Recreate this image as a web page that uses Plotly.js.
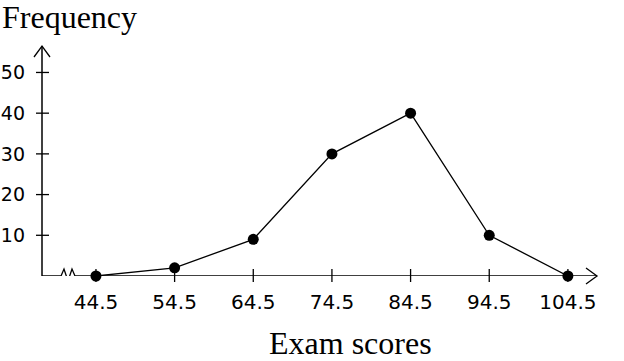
<!DOCTYPE html>
<html>
<head>
<meta charset="utf-8">
<script src="https://cdn.plot.ly/plotly-3.0.1.min.js"></script>
<style>html,body{margin:0;padding:0;background:#fff;}#chart{width:624px;height:361px;}</style>
</head>
<body>
<div id="chart"></div>
<script>
// Data
var scores = [44.5, 54.5, 64.5, 74.5, 84.5, 94.5, 104.5];
var frequency = [0, 2, 9, 30, 40, 10, 0];
var xTickLabels = ['44.5', '54.5', '64.5', '74.5', '84.5', '94.5', '104.5'];
var yTicks = [10, 20, 30, 40, 50];
var yTickLabels = ['10', '20', '30', '40', '50'];

var W = 624, H = 361, M = {l:42, r:27, t:46, b:85};
var plotW = W - M.l - M.r, plotH = H - M.t - M.b;

var shapes = [];
// axis lines
shapes.push({type:'line', xref:'paper', yref:'y', x0:0, x1:1, y0:0, y1:0, line:{color:'#000', width:1.5}});
shapes.push({type:'line', xref:'paper', yref:'paper', x0:0, x1:0, y0:0, y1:1, line:{color:'#000', width:1.5}});
// arrowheads (pixel-sized, anchored at axis ends)
shapes.push({type:'path', xref:'paper', yref:'paper', xsizemode:'pixel', ysizemode:'pixel', xanchor:1, yanchor:0,
  path:'M-11,8 L0,0 L-11,-8', line:{color:'#000', width:1.3}});
shapes.push({type:'path', xref:'paper', yref:'paper', xsizemode:'pixel', ysizemode:'pixel', xanchor:0, yanchor:1,
  path:'M-8,-11 L0,0 L8,-11', line:{color:'#000', width:1.3}});
// axis break (zigzag)
shapes.push({type:'path', xref:'paper', yref:'y', xsizemode:'pixel', ysizemode:'pixel', xanchor:0, yanchor:0,
  path:'M17,-1.5 L37,-1.5 L37,1.5 L17,1.5 Z', fillcolor:'#fff', line:{width:0}});
shapes.push({type:'path', xref:'paper', yref:'y', xsizemode:'pixel', ysizemode:'pixel', xanchor:0, yanchor:0,
  path:'M17,0 L19,0 L22,7 L26,-5 L30,7 L33,0 L37,0', line:{color:'#000', width:1.3}});
// tick marks crossing the axes
xTickLabels.forEach(function(t, i){
  shapes.push({type:'line', xref:'x', yref:'paper', x0:scores[i], x1:scores[i],
    y0:-6 / plotH, y1:7 / plotH, line:{color:'#000', width:1.3}});
});
yTicks.forEach(function(v){
  shapes.push({type:'line', xref:'paper', yref:'y', x0:-6 / plotW, x1:7 / plotW,
    y0:v, y1:v, line:{color:'#000', width:1.3}});
});

var trace = {
  x: scores, y: frequency, type:'scatter', mode:'lines+markers',
  line:{color:'#000', width:1.3},
  marker:{color:'#000', size:11},
  cliponaxis:false, hoverinfo:'none'
};

var layout = {
  width:W, height:H,
  margin:M,
  paper_bgcolor:'#fff', plot_bgcolor:'#fff',
  showlegend:false,
  font:{family:'DejaVu Sans', color:'#000', size:18},
  title:{text:'Frequency', font:{family:'Liberation Serif', size:32, color:'#000'},
    x:0, xref:'container', xanchor:'left', y:1, yref:'container', yanchor:'top', pad:{t:6, l:2}, automargin:false},
  xaxis:{range:[37.64, 108.2], showgrid:false, zeroline:false, showline:false, ticks:'',
    tickvals:scores, ticktext:xTickLabels, ticklabelstandoff:12, fixedrange:true,
    tickfont:{family:'DejaVu Sans', size:20, color:'#000'}},
  yaxis:{range:[0, 56.5], showgrid:false, zeroline:false, showline:false, ticks:'',
    tickvals:yTicks, ticktext:yTickLabels, ticklabelstandoff:16, fixedrange:true,
    tickfont:{family:'DejaVu Sans', size:19, color:'#000'}},
  annotations:[{text:'Exam scores', xref:'paper', yref:'paper', x:0.555, y:-0.29, xanchor:'center', yanchor:'middle',
    showarrow:false, font:{family:'Liberation Serif', size:32, color:'#000'}}],
  shapes:shapes
};

Plotly.newPlot('chart', [trace], layout, {staticPlot:true, displayModeBar:false});
</script>
</body>
</html>
